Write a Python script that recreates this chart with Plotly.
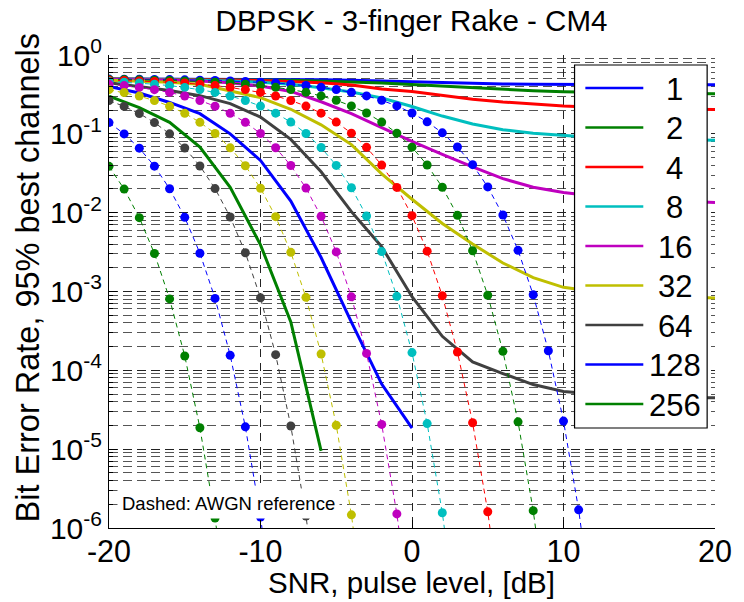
import plotly.graph_objects as go

# ---------------- data ----------------
n_labels = ["1", "2", "4", "8", "16", "32", "64", "128", "256"]
colors = ["#0000FF", "#008000", "#FF0000", "#00BFBF", "#BF00BF",
          "#BFBF00", "#404040", "#0000FF", "#008000"]

snr_rake = [-20, -18, -16, -14, -12, -10, -8, -6, -4, -2, 0,
            2, 4, 6, 8, 10, 12, 14, 16, 18, 20]

rake_1 = [0.495, 0.495, 0.495, 0.495, 0.494, 0.493, 0.49, 0.487, 0.478, 0.466, 0.455,
          0.445, 0.436, 0.43, 0.426, 0.423, 0.422, 0.421, 0.42, 0.42, 0.42]
rake_2 = [0.495, 0.494, 0.492, 0.49, 0.487, 0.483, 0.477, 0.468, 0.455, 0.44, 0.42,
          0.40, 0.385, 0.368, 0.353, 0.342, 0.335, 0.33, 0.327, 0.325, 0.323]
rake_4 = [0.494, 0.493, 0.49, 0.487, 0.482, 0.475, 0.463, 0.445, 0.415, 0.37, 0.345,
          0.305, 0.275, 0.254, 0.238, 0.226, 0.218, 0.212, 0.208, 0.205, 0.203]
rake_8 = [0.49, 0.488, 0.485, 0.478, 0.468, 0.452, 0.425, 0.385, 0.34, 0.285, 0.222,
          0.168, 0.133, 0.113, 0.102, 0.095, 0.09, 0.087, 0.085, 0.084, 0.083]
rake_16 = [0.49, 0.487, 0.48, 0.468, 0.445, 0.405, 0.345, 0.255, 0.18, 0.12, 0.08,
           0.055, 0.038, 0.027, 0.021, 0.018, 0.0163, 0.0153, 0.0145, 0.014, 0.0135]
rake_32 = [0.48, 0.468, 0.452, 0.425, 0.35, 0.288, 0.205, 0.13, 0.073, 0.031, 0.0148,
           0.0073, 0.004, 0.0023, 0.0015, 0.00113, 0.001, 0.00093, 0.00088, 0.00085, 0.00083]
rake_64 = [0.445, 0.40, 0.355, 0.305, 0.242, 0.163, 0.085, 0.033, 0.0103, 0.0037, 8.6e-4,
           2.7e-4, 1.28e-4, 9.1e-5, 6.6e-5, 5.4e-5, 5.0e-5, 4.8e-5, 4.6e-5, 4.5e-5, 4.5e-5]
rake_128 = [0.40, 0.33, 0.25, 0.18, 0.10, 0.046, 0.014, 0.0027, 4.1e-4, 6.7e-5, 1.85e-5]
rake_256 = [0.30, 0.215, 0.14, 0.068, 0.021, 0.0039, 4.1e-4, 9.5e-6]

snr_awgn = [-20, -19, -18, -17, -16, -15, -14, -13, -12, -11, -10, -9, -8, -7, -6, -5,
            -4, -3, -2, -1, 0, 1, 2, 3, 4, 5, 6, 7, 8, 9, 10, 11, 12]

awgn_1 = [0.495, 0.494, 0.492, 0.490, 0.488, 0.484, 0.480, 0.476, 0.469, 0.462, 0.452,
          0.441, 0.427, 0.410, 0.389, 0.364, 0.336, 0.303, 0.266, 0.226, 0.184, 0.142,
          0.103, 0.068, 0.0406, 0.0212, 0.00933, 0.00333, 9.09e-4, 1.77e-4, 2.27e-5,
          1.70e-6, 6.5e-8]
awgn_2 = [0.490, 0.488, 0.484, 0.480, 0.476, 0.469, 0.462, 0.452, 0.441, 0.427, 0.409,
          0.389, 0.364, 0.336, 0.303, 0.266, 0.226, 0.184, 0.141, 0.102, 0.0677, 0.0403,
          0.0210, 0.00925, 0.00329, 8.96e-4, 1.74e-4, 2.22e-5, 1.66e-6, 6.3e-8]
awgn_4 = [0.480, 0.475, 0.469, 0.462, 0.452, 0.441, 0.426, 0.409, 0.388, 0.364, 0.335,
          0.302, 0.265, 0.225, 0.183, 0.141, 0.102, 0.0674, 0.0401, 0.0209, 0.00916,
          0.00325, 8.82e-4, 1.71e-4, 2.16e-5, 1.61e-6, 6.1e-8]
awgn_8 = [0.462, 0.452, 0.441, 0.426, 0.409, 0.388, 0.364, 0.335, 0.302, 0.265, 0.225,
          0.183, 0.141, 0.101, 0.0670, 0.0398, 0.0207, 0.00907, 0.00321, 8.69e-4,
          1.68e-4, 2.11e-5, 1.56e-6, 5.8e-8]
awgn_16 = [0.426, 0.409, 0.388, 0.363, 0.335, 0.302, 0.265, 0.224, 0.182, 0.140, 0.101,
           0.0667, 0.0396, 0.0205, 0.00898, 0.00318, 8.56e-4, 1.64e-4, 2.06e-5, 1.51e-6,
           5.6e-8]
awgn_32 = [0.363, 0.334, 0.301, 0.264, 0.224, 0.182, 0.140, 0.101, 0.0664, 0.0394, 0.0204,
           0.00890, 0.00314, 8.43e-4, 1.61e-4, 2.01e-5, 1.47e-6, 5.4e-8]
awgn_64 = [0.264, 0.223, 0.181, 0.139, 0.100, 0.0661, 0.0391, 0.0202, 0.00881, 0.00310,
           8.31e-4, 1.58e-4, 1.97e-5, 1.42e-6, 5.2e-8]
awgn_128 = [0.139, 0.0998, 0.0658, 0.0389, 0.0201, 0.00873, 0.00306, 8.18e-4, 1.55e-4,
            1.92e-5, 1.38e-6, 5.0e-8]
awgn_256 = [0.0387, 0.0199, 0.00865, 0.00303, 8.05e-4, 1.52e-4, 1.87e-5, 1.34e-6, 4.8e-8]

x_tickvals = [-20, -10, 0, 10, 20]
x_ticktext = ["-20", "-10", "0", "10", "20"]
y_tickvals = [1e-6, 1e-5, 1e-4, 1e-3, 1e-2, 1e-1, 1]
y_ticktext = ["10<sup>-6</sup>", "10<sup>-5</sup>", "10<sup>-4</sup>", "10<sup>-3</sup>",
              "10<sup>-2</sup>", "10<sup>-1</sup>", "10<sup>0</sup>"]

title_text = "DBPSK - 3-finger Rake - CM4"
xlabel_text = "SNR, pulse level, [dB]"
ylabel_text = "Bit Error Rate, 95% best channels"
note_text = "Dashed: AWGN reference"

rake_series = [rake_1, rake_2, rake_4, rake_8, rake_16, rake_32, rake_64, rake_128, rake_256]
awgn_series = [awgn_1, awgn_2, awgn_4, awgn_8, awgn_16, awgn_32, awgn_64, awgn_128, awgn_256]

# ---------------- layout geometry (pixels) ----------------
W, H = 744, 602
PL, PR, PT, PB = 109, 726, 55, 528   # plot area edges


def px_x(px):
    return (px - PL) / (PR - PL)


def px_y(py):
    return (PB - py) / (PB - PT)


FONT = "Liberation Sans, Arial, Helvetica, sans-serif"

fig = go.Figure()

for vals, col, lab in zip(rake_series, colors, n_labels):
    fig.add_trace(go.Scatter(
        x=snr_rake[:len(vals)], y=vals, mode="lines", name=lab,
        line=dict(color=col, width=3), showlegend=False, hoverinfo="skip"))

for vals, col, lab in zip(awgn_series, colors, n_labels):
    fig.add_trace(go.Scatter(
        x=snr_awgn[:len(vals)], y=vals, mode="lines+markers", name="AWGN " + lab,
        line=dict(color=col, width=1, dash="5px,4px"),
        marker=dict(size=9, color=col, line=dict(width=0)),
        showlegend=False, hoverinfo="skip"))

minor_vals = [m * 10.0 ** e for e in range(-6, 0) for m in range(2, 10)]

fig.update_layout(
    width=W, height=H,
    margin=dict(l=PL, r=W - PR, t=PT, b=H - PB),
    paper_bgcolor="white", plot_bgcolor="white",
    font=dict(family=FONT, color="black"),
    showlegend=False,
    title=dict(text=title_text, x=px_x(417), xref="paper", xanchor="center",
               y=1 - 21 / H, yref="container", yanchor="middle",
               font=dict(size=29.5, family=FONT, color="black")),
    xaxis=dict(range=[-20, 20], tickmode="array", tickvals=x_tickvals, ticktext=x_ticktext,
               ticks="inside", ticklen=8, tickcolor="black", tickwidth=1,
               ticklabelstandoff=-4,
               showline=True, linecolor="black", linewidth=1, mirror=False,
               showgrid=True, gridcolor="#222", gridwidth=1, griddash="8px,6px",
               zeroline=False, tickfont=dict(size=30.5, family=FONT, color="black")),
    yaxis=dict(type="log", range=[-6, 0], tickmode="array", tickvals=y_tickvals,
               ticktext=y_ticktext, ticks="inside", ticklen=8, tickcolor="black",
               showline=True, linecolor="black", linewidth=1, mirror=False,
               showgrid=True, gridcolor="#222", gridwidth=1, griddash="9px,5px",
               zeroline=False, tickfont=dict(size=30, family=FONT, color="black"),
               minor=dict(tickmode="array", tickvals=minor_vals, ticks="inside", ticklen=4,
                          tickcolor="black", showgrid=True, gridcolor="#555",
                          gridwidth=1, griddash="9px,5px")),
)

annotations = [
    dict(text=xlabel_text, x=px_x(417), y=px_y(582), xref="paper", yref="paper",
         xanchor="center", yanchor="middle", showarrow=False,
         font=dict(size=29.5, family=FONT, color="black")),
    dict(text=ylabel_text, x=px_x(27), y=px_y(277), xref="paper", yref="paper",
         xanchor="center", yanchor="middle", showarrow=False, textangle=-90,
         font=dict(size=32.5, family=FONT, color="black")),
    dict(text=note_text, x=px_x(231), y=px_y(503), xref="paper", yref="paper",
         xanchor="center", yanchor="middle", showarrow=False, bgcolor="white",
         borderpad=4, font=dict(size=18.5, family=FONT, color="black")),
]

# legend drawn as a boxed key
LG_L, LG_R, LG_T, LG_B = 583, 718, 65, 428
shapes = [dict(type="rect", xref="paper", yref="paper",
               x0=px_x(LG_L), x1=px_x(LG_R), y0=px_y(LG_B), y1=px_y(LG_T),
               fillcolor="white", line=dict(color="black", width=1.2), layer="above")]
for i, (lab, col) in enumerate(zip(n_labels, colors)):
    cy = LG_T + 23 + i * 39.5
    shapes.append(dict(type="line", xref="paper", yref="paper",
                       x0=px_x(594), x1=px_x(653), y0=px_y(cy), y1=px_y(cy),
                       line=dict(color=col, width=2.5), layer="above"))
    annotations.append(dict(text=lab, x=px_x(685), y=px_y(cy + 1), xref="paper", yref="paper",
                            xanchor="center", yanchor="middle", showarrow=False,
                            font=dict(size=31, family=FONT, color="black")))

fig.update_layout(annotations=annotations, shapes=shapes)

fig.write_html("out.html", config={"displayModeBar": False, "staticPlot": True},
               post_script="document.body.style.margin='0px';")
